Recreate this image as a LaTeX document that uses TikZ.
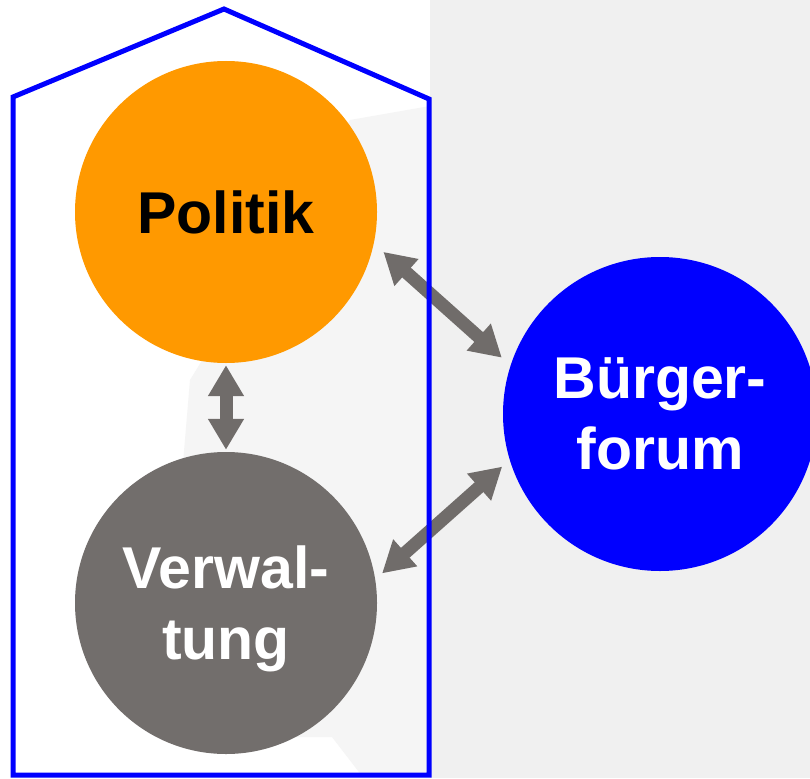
\documentclass[tikz,border=0pt]{standalone}
\usepackage{fontspec}
\setmainfont{Liberation Sans}
\usetikzlibrary{arrows.meta}
\definecolor{bggray}{HTML}{F0F0F0}
\definecolor{polorange}{HTML}{FF9900}
\definecolor{forumblue}{HTML}{0000FF}
\definecolor{verwgray}{HTML}{726E6C}
\definecolor{arrowgray}{HTML}{706C6A}
\definecolor{framblue}{HTML}{0000FF}
\tikzset{
  bigcircle/.style={circle, inner sep=0pt, align=center,
    font=\bfseries\fontsize{59}{71}\selectfont},
  dblarrow/.style={draw=arrowgray, line width=13pt,
    {Triangle[length=31pt,width=34pt]}-{Triangle[length=31pt,width=34pt]}},
  framebox/.style={draw=framblue, line width=5pt, line join=miter}
}
\begin{document}
\begin{tikzpicture}[x=1pt,y=-1pt]
\useasboundingbox (0,0) rectangle (810,778);
% light backdrop
\fill[white] (0,0) rectangle (810,778);
\fill[bggray] (430,0) rectangle (810,778);
\fill[bggray!70!white] (350,120) -- (430,106) -- (430,776) -- (362,776) -- (332,737)
  -- (160,737) -- (190,380) -- cycle;

% the three bodies
\node[bigcircle, fill=polorange, minimum size=302pt, text=black] (pol) at (226,212) {Politik};
\node[bigcircle, fill=verwgray, minimum size=302pt, text=white, text height=126pt] (ver) at (226,603) {Verwal-\\tung};
\node[bigcircle, fill=forumblue, minimum size=314pt, text=white] (bf) at (660,414) {Bürger-\\forum};

% exchanges between them
\draw[dblarrow, shorten <=2pt, shorten >=2pt] (pol.south) -- (ver.north);
\draw[dblarrow, shorten <=12.7pt, shorten >=11.6pt] (pol.-12.5) -- (bf.162);
\draw[dblarrow, shorten <=9pt, shorten >=10pt] (ver.9) -- (bf.197.6);

% house-shaped outline
\draw[framebox] (13,97) -- (224,9) -- (429,99) -- (429,775) -- (13,775) -- cycle;
\end{tikzpicture}
\end{document}
